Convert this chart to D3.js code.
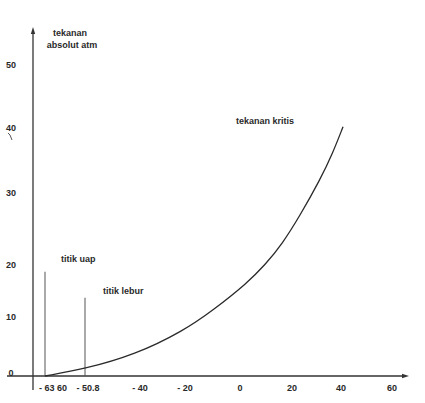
<!DOCTYPE html>
<html>
<head>
<meta charset="utf-8">
<script src="https://cdn.jsdelivr.net/npm/d3@7"></script>
<style>
  body { margin: 0; background: #fff; }
  text { font-family: "Liberation Sans", Arial, sans-serif; font-weight: bold; fill: #2a2a2a; }
</style>
</head>
<body>
<svg id="chart" width="425" height="403"></svg>
<script>
// hand drawn axes: tick spacing is uneven, so scales are piecewise
const xTickValues = [-63, -50.8, -40, -20, 0, 20, 40, 60];
const xTickLabels = ["- 63 60", "- 50.8", "- 40", "- 20", "0", "20", "40", "60"];
const yTickValues = [0, 10, 20, 30, 40, 50];
const yTickLabels = ["0", "10", "20", "30", "40", "50"];

// vapour pressure curve (temperature, absolute pressure)
const curveT = [-63, -50.8, -41, -20.9, -9.8, 2.7, 9.6, 16.2, 23.3, 31.4, 36.7, 40.8];
const curveP = [0, 1.2, 3.6, 7.6, 11.3, 16.5, 20.0, 22.9, 26.9, 32.0, 36.2, 40.2];

// marker lines: titik uap, titik lebur
const markerT = [-63, -50.8];
const markerTop = [18.7, 13.7];
const markerNames = ["titik uap", "titik lebur"];

const svg = d3.select("#chart");

const x = d3.scaleLinear()
  .domain(xTickValues)
  .range([45, 85, 140, 185, 240, 292, 341, 392]);
const y = d3.scaleLinear()
  .domain(yTickValues)
  .range([376, 317, 265, 193, 128, 65]);

const axisColor = "#333";

// x axis
svg.append("line")
  .attr("x1", 7).attr("x2", 405)
  .attr("y1", y(0)).attr("y2", y(0))
  .attr("stroke", axisColor).attr("stroke-width", 1.3);
svg.append("path")
  .attr("d", `M409,${y(0)} L402,${y(0) - 2.2} L402,${y(0) + 2.2} Z`)
  .attr("fill", axisColor);

// y axis
svg.append("line")
  .attr("x1", 33).attr("x2", 33)
  .attr("y1", 31).attr("y2", 390)
  .attr("stroke", axisColor).attr("stroke-width", 1.3);
svg.append("path")
  .attr("d", "M33,27 L30.8,34 L35.2,34 Z")
  .attr("fill", axisColor);

// x tick labels (no tick marks in the original)
const xLabelShift = [8, 3, 0, 0, 0, 0, 0, 0];
svg.append("g")
  .selectAll("text")
  .data(xTickValues)
  .enter()
  .append("text")
  .attr("x", (d, i) => x(d) + xLabelShift[i])
  .attr("y", 391)
  .attr("text-anchor", "middle")
  .attr("font-size", 9)
  .text((d, i) => xTickLabels[i]);

// y tick labels
svg.append("g")
  .selectAll("text")
  .data(yTickValues)
  .enter()
  .append("text")
  .attr("x", 11)
  .attr("y", (d) => y(d) + (d === 0 ? 0 : 3))
  .attr("text-anchor", "middle")
  .attr("font-size", 9)
  .text((d, i) => yTickLabels[i]);

// marker lines
svg.append("g")
  .selectAll("line")
  .data(markerT)
  .enter()
  .append("line")
  .attr("x1", (d) => x(d)).attr("x2", (d) => x(d))
  .attr("y1", (d, i) => y(markerTop[i]))
  .attr("y2", y(0))
  .attr("stroke", "#555")
  .attr("stroke-width", 1);

// curve
const line = d3.line()
  .x((d) => x(d[0]))
  .y((d) => y(d[1]))
  .curve(d3.curveBasis);
svg.append("path")
  .datum(curveT.map((t, i) => [t, curveP[i]]))
  .attr("d", line)
  .attr("fill", "none")
  .attr("stroke", "#2a2a2a")
  .attr("stroke-width", 1.3);

// annotations
const notes = [
  { text: "tekanan", x: 70, y: 36, anchor: "middle" },
  { text: "absolut atm", x: 72, y: 48, anchor: "middle" },
  { text: "tekanan kritis", x: 236, y: 124, anchor: "start" },
  { text: markerNames[0], x: 61, y: 262, anchor: "start" },
  { text: markerNames[1], x: 103, y: 294, anchor: "start" }
];
svg.append("g")
  .selectAll("text")
  .data(notes)
  .enter()
  .append("text")
  .attr("x", (d) => d.x)
  .attr("y", (d) => d.y)
  .attr("text-anchor", (d) => d.anchor)
  .attr("font-size", 9)
  .text((d) => d.text);

// small stray pen stroke under the 40 label
svg.append("path")
  .attr("d", "M8,133 L10,135 L12,140")
  .attr("fill", "none")
  .attr("stroke", "#444")
  .attr("stroke-width", 0.9);
</script>
</body>
</html>
